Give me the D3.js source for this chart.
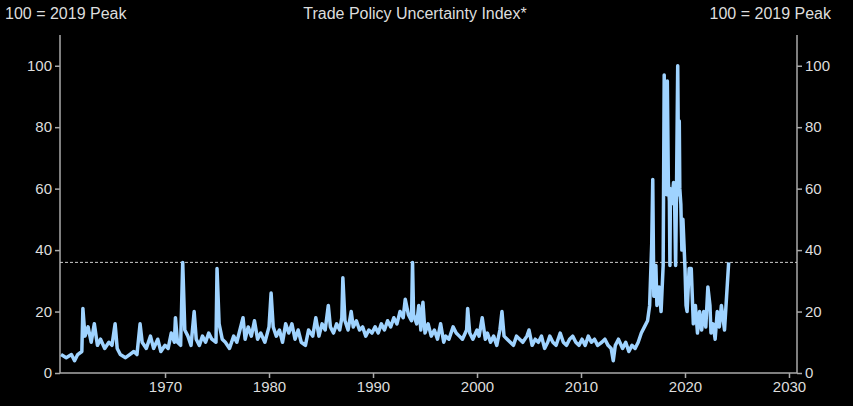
<!DOCTYPE html>
<html><head><meta charset="utf-8">
<script src="https://cdn.jsdelivr.net/npm/d3@7"></script>
<style>body{margin:0;background:#000}text{font-family:"Liberation Sans",Arial,sans-serif}</style>
</head><body><svg id="c" width="853" height="406"></svg>
<script>
const dates=[1960.0,1960.5,1961.0,1961.3,1961.6,1962.0,1962.1,1962.3,1962.6,1962.9,1963.2,1963.5,1963.8,1964.2,1964.6,1964.9,1965.2,1965.4,1965.7,1966.2,1966.6,1967.0,1967.3,1967.6,1967.8,1968.2,1968.6,1968.9,1969.3,1969.6,1970.0,1970.3,1970.6,1970.9,1971.0,1971.2,1971.5,1971.7,1971.9,1972.2,1972.5,1972.8,1973.0,1973.3,1973.6,1973.9,1974.2,1974.5,1974.9,1975.0,1975.2,1975.5,1975.8,1976.2,1976.6,1976.9,1977.2,1977.5,1977.7,1978.0,1978.3,1978.6,1978.9,1979.2,1979.6,1980.0,1980.2,1980.4,1980.7,1981.0,1981.3,1981.6,1981.9,1982.2,1982.5,1982.8,1983.1,1983.5,1983.8,1984.2,1984.5,1984.8,1985.1,1985.4,1985.7,1985.9,1986.2,1986.5,1986.8,1987.0,1987.1,1987.3,1987.6,1987.9,1988.1,1988.4,1988.7,1989.0,1989.3,1989.6,1989.9,1990.2,1990.5,1990.8,1991.1,1991.4,1991.7,1992.0,1992.3,1992.6,1992.9,1993.1,1993.4,1993.7,1993.8,1993.9,1994.2,1994.4,1994.6,1994.8,1995.0,1995.3,1995.6,1995.9,1996.2,1996.5,1996.8,1997.0,1997.3,1997.7,1998.0,1998.3,1998.6,1999.0,1999.1,1999.3,1999.6,2000.0,2000.2,2000.5,2000.8,2001.0,2001.3,2001.6,2001.9,2002.2,2002.4,2002.6,2002.9,2003.2,2003.5,2003.8,2004.1,2004.4,2004.8,2005.0,2005.3,2005.6,2005.9,2006.2,2006.5,2006.8,2007.0,2007.3,2007.6,2008.0,2008.3,2008.6,2008.9,2009.2,2009.5,2009.8,2010.1,2010.4,2010.7,2011.0,2011.3,2011.6,2012.0,2012.3,2012.6,2012.9,2013.1,2013.3,2013.6,2014.0,2014.3,2014.6,2014.9,2015.2,2015.5,2015.8,2016.1,2016.4,2016.6,2016.8,2016.9,2017.0,2017.2,2017.3,2017.5,2017.7,2017.9,2018.0,2018.1,2018.2,2018.25,2018.3,2018.4,2018.5,2018.55,2018.6,2018.7,2018.8,2018.9,2019.0,2019.1,2019.2,2019.3,2019.4,2019.45,2019.5,2019.6,2019.7,2019.8,2019.9,2020.0,2020.1,2020.2,2020.4,2020.6,2020.8,2021.0,2021.2,2021.4,2021.6,2021.8,2022.0,2022.2,2022.4,2022.5,2022.7,2022.9,2023.1,2023.3,2023.5,2023.8,2024.0,2024.2,2024.5];
const values=[6,5,6,4,6,7,21,12,15,10,16,9,11,8,10,9,16,8,6,5,6,7,6,16,10,8,12,8,11,7,9,8,13,10,18,10,9,36,14,12,9,20,11,9,12,10,13,11,10,34,16,11,10,8,12,10,14,18,11,15,12,17,11,13,10,15,26,15,12,14,10,16,13,16,11,14,10,9,14,12,18,12,16,14,22,15,13,16,14,18,31,17,14,20,15,17,14,15,12,14,13,15,13,16,14,17,15,18,16,20,18,24,19,17,36,19,16,22,14,23,13,16,12,14,11,16,10,12,11,15,13,12,11,14,21,13,11,14,12,18,11,13,10,12,9,14,20,12,11,10,9,12,11,10,12,14,9,11,10,12,8,10,12,10,9,13,10,9,11,12,10,9,11,9,12,10,11,9,10,11,9,8,4,9,11,8,10,7,9,8,10,13,15,17,22,42,63,25,35,22,28,20,35,97,60,93,58,95,62,56,35,60,55,58,62,56,35,65,100,58,82,60,55,40,50,42,34,22,20,34,34,16,22,13,20,14,20,15,28,22,13,16,11,20,15,22,14,25,36];
const yTicks=[0,20,40,60,80,100];
const xTicks=[1970,1980,1990,2000,2010,2020,2030];
const refLevel=36;

const svg=d3.select("#c");
const L=60,R=797,T=35,B=373;
const x=d3.scaleLinear().domain([1959.9,2030.77]).range([L,R]);
const y=d3.scaleLinear().domain([0,110]).range([B,T]);
const grey="#aaa",txt="#ddd";
const ax=svg.append("g").attr("transform",`translate(0,${B})`).call(d3.axisBottom(x).tickValues(xTicks).tickFormat(d3.format("d")).tickSize(5));
const ly=svg.append("g").attr("transform",`translate(${L},0)`).call(d3.axisLeft(y).tickValues(yTicks).tickSize(5));
const ry=svg.append("g").attr("transform",`translate(${R},0)`).call(d3.axisRight(y).tickValues(yTicks).tickSize(5));
[ax,ly,ry].forEach(g=>{g.selectAll("path,line").attr("stroke",grey).attr("stroke-width",1.5);g.selectAll("text").attr("fill",txt).attr("font-size",15).attr("font-family","Liberation Sans, Arial, sans-serif");});
ly.select(".domain").attr("d",`M-0,${B}V${T}`);ry.select(".domain").attr("d",`M0,${B}V${T}`);
ax.select(".domain").attr("d",`M${L},0H${R}`);
svg.append("line").attr("x1",L).attr("x2",R).attr("y1",y(refLevel)).attr("y2",y(refLevel)).attr("stroke","#ccc").attr("stroke-dasharray","3,2").attr("stroke-width",1);
const line=d3.line().x((d,i)=>x(dates[i])).y(d=>y(d));
svg.append("path").datum(values).attr("d",line).attr("fill","none").attr("stroke","#9fd3ff").attr("stroke-width",3.5).attr("stroke-linejoin","round");
svg.append("text").attr("x",5).attr("y",19).attr("fill",txt).attr("font-size",16).text("100 = 2019 Peak");
svg.append("text").attr("x",831).attr("y",19).attr("text-anchor","end").attr("fill",txt).attr("font-size",16).text("100 = 2019 Peak");
svg.append("text").attr("x",415).attr("y",19).attr("text-anchor","middle").attr("fill",txt).attr("font-size",16).text("Trade Policy Uncertainty Index*");
</script></body></html>
